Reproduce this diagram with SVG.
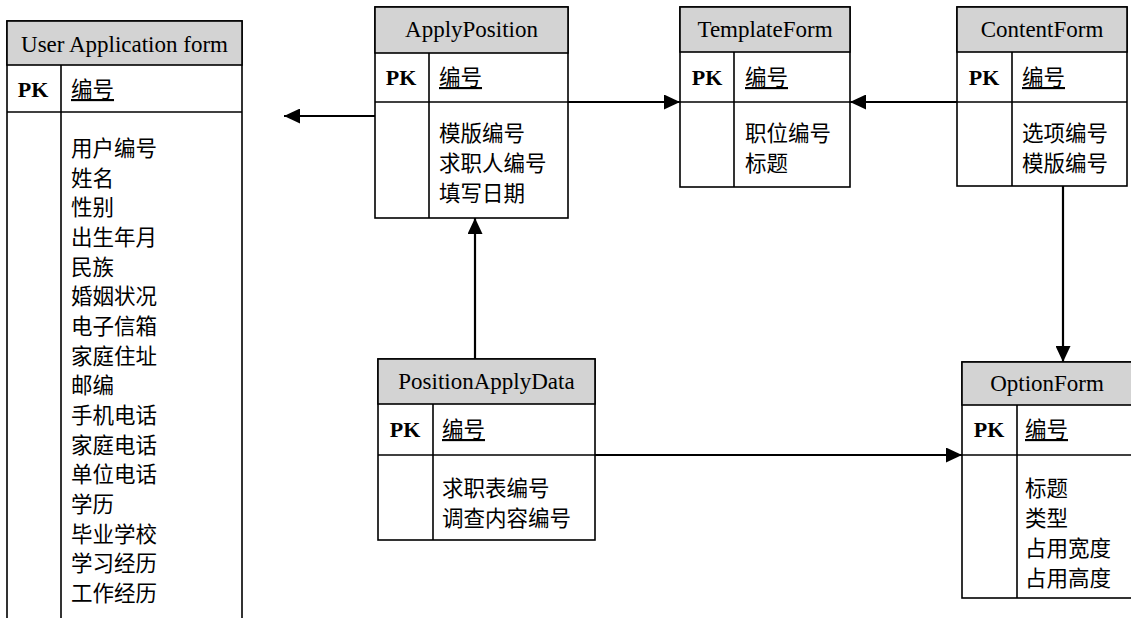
<svg xmlns="http://www.w3.org/2000/svg" width="1131" height="618" viewBox="0 0 1131 618">
<style>
.box{fill:#fff;stroke:#000;stroke-width:1.6}
.hd{fill:#d3d3d3;stroke:#000;stroke-width:1.6}
.ln{stroke:#000;stroke-width:1.6;fill:none}
.title{font-family:"Liberation Serif","Times New Roman",serif;font-size:23px;text-anchor:middle;fill:#000}
.pk{font-family:"Liberation Serif","Times New Roman",serif;font-size:22px;font-weight:bold;text-anchor:middle;fill:#000}
.f{font-family:"Liberation Serif","Noto Sans CJK SC",sans-serif;font-size:21.5px;fill:#000}
.u{text-decoration:underline}
.conn{stroke:#000;stroke-width:2.2;fill:none;marker-end:url(#ah)}
</style>
<defs>
<marker id="ah" markerUnits="userSpaceOnUse" markerWidth="17" markerHeight="15" refX="16" refY="7.5" orient="auto">
<path d="M0,0 L16,7.5 L0,15 z" fill="#000"/>
</marker>
</defs>

<g id="user-application-form">
<rect class="box" x="7" y="21" width="235" height="605"/>
<rect class="hd" x="7" y="21" width="235" height="44"/>
<line class="ln" x1="7" y1="112" x2="242" y2="112"/>
<line class="ln" x1="61" y1="65" x2="61" y2="626"/>
<text class="title" x="124.5" y="52">User Application form</text>
<text class="pk" x="33" y="97">PK</text>
<text class="f u" x="71" y="97">编号</text>
<text class="f" x="71" y="156">用户编号</text>
<text class="f" x="71" y="185.7">姓名</text>
<text class="f" x="71" y="215.3">性别</text>
<text class="f" x="71" y="245">出生年月</text>
<text class="f" x="71" y="274.7">民族</text>
<text class="f" x="71" y="304.3">婚姻状况</text>
<text class="f" x="71" y="334">电子信箱</text>
<text class="f" x="71" y="363.7">家庭住址</text>
<text class="f" x="71" y="393.3">邮编</text>
<text class="f" x="71" y="423">手机电话</text>
<text class="f" x="71" y="452.7">家庭电话</text>
<text class="f" x="71" y="482.3">单位电话</text>
<text class="f" x="71" y="512">学历</text>
<text class="f" x="71" y="541.7">毕业学校</text>
<text class="f" x="71" y="571.3">学习经历</text>
<text class="f" x="71" y="601">工作经历</text>
</g>

<g id="apply-position">
<rect class="box" x="375" y="7" width="193" height="211"/>
<rect class="hd" x="375" y="7" width="193" height="46"/>
<line class="ln" x1="375" y1="102" x2="568" y2="102"/>
<line class="ln" x1="429" y1="53" x2="429" y2="218"/>
<text class="title" x="471.5" y="37">ApplyPosition</text>
<text class="pk" x="401" y="85">PK</text>
<text class="f u" x="439" y="85">编号</text>
<text class="f" x="439" y="141">模版编号</text>
<text class="f" x="439" y="171">求职人编号</text>
<text class="f" x="439" y="201">填写日期</text>
</g>

<g id="template-form">
<rect class="box" x="680" y="7" width="170" height="180"/>
<rect class="hd" x="680" y="7" width="170" height="45"/>
<line class="ln" x1="680" y1="102" x2="850" y2="102"/>
<line class="ln" x1="734" y1="52" x2="734" y2="187"/>
<text class="title" x="765" y="37">TemplateForm</text>
<text class="pk" x="707" y="85">PK</text>
<text class="f u" x="745" y="85">编号</text>
<text class="f" x="745" y="141">职位编号</text>
<text class="f" x="745" y="171">标题</text>
</g>

<g id="content-form">
<rect class="box" x="957" y="7" width="170" height="179"/>
<rect class="hd" x="957" y="7" width="170" height="45"/>
<line class="ln" x1="957" y1="102" x2="1127" y2="102"/>
<line class="ln" x1="1012" y1="52" x2="1012" y2="186"/>
<text class="title" x="1042" y="37">ContentForm</text>
<text class="pk" x="984" y="85">PK</text>
<text class="f u" x="1022" y="85">编号</text>
<text class="f" x="1022" y="141">选项编号</text>
<text class="f" x="1022" y="171">模版编号</text>
</g>

<g id="position-apply-data">
<rect class="box" x="378" y="359" width="217" height="181"/>
<rect class="hd" x="378" y="359" width="217" height="45"/>
<line class="ln" x1="378" y1="455" x2="595" y2="455"/>
<line class="ln" x1="433" y1="404" x2="433" y2="540"/>
<text class="title" x="486.5" y="389">PositionApplyData</text>
<text class="pk" x="405" y="437">PK</text>
<text class="f u" x="442" y="437">编号</text>
<text class="f" x="442" y="496">求职表编号</text>
<text class="f" x="442" y="526">调查内容编号</text>
</g>

<g id="option-form">
<rect class="box" x="962" y="362" width="172" height="236"/>
<rect class="hd" x="962" y="362" width="172" height="43"/>
<line class="ln" x1="962" y1="455" x2="1134" y2="455"/>
<line class="ln" x1="1017" y1="405" x2="1017" y2="598"/>
<text class="title" x="1047" y="391">OptionForm</text>
<text class="pk" x="989" y="437">PK</text>
<text class="f u" x="1025" y="437">编号</text>
<text class="f" x="1025" y="496">标题</text>
<text class="f" x="1025" y="526">类型</text>
<text class="f" x="1025" y="556">占用宽度</text>
<text class="f" x="1025" y="586">占用高度</text>
</g>

<g id="connectors">
<line class="conn" x1="375" y1="116" x2="284" y2="116"/>
<line class="conn" x1="568" y1="102" x2="680" y2="102"/>
<line class="conn" x1="957" y1="102" x2="850" y2="102"/>
<line class="conn" x1="475" y1="359" x2="475" y2="218"/>
<line class="conn" x1="1063" y1="186" x2="1063" y2="362"/>
<line class="conn" x1="595" y1="455" x2="962" y2="455"/>
</g>
</svg>
